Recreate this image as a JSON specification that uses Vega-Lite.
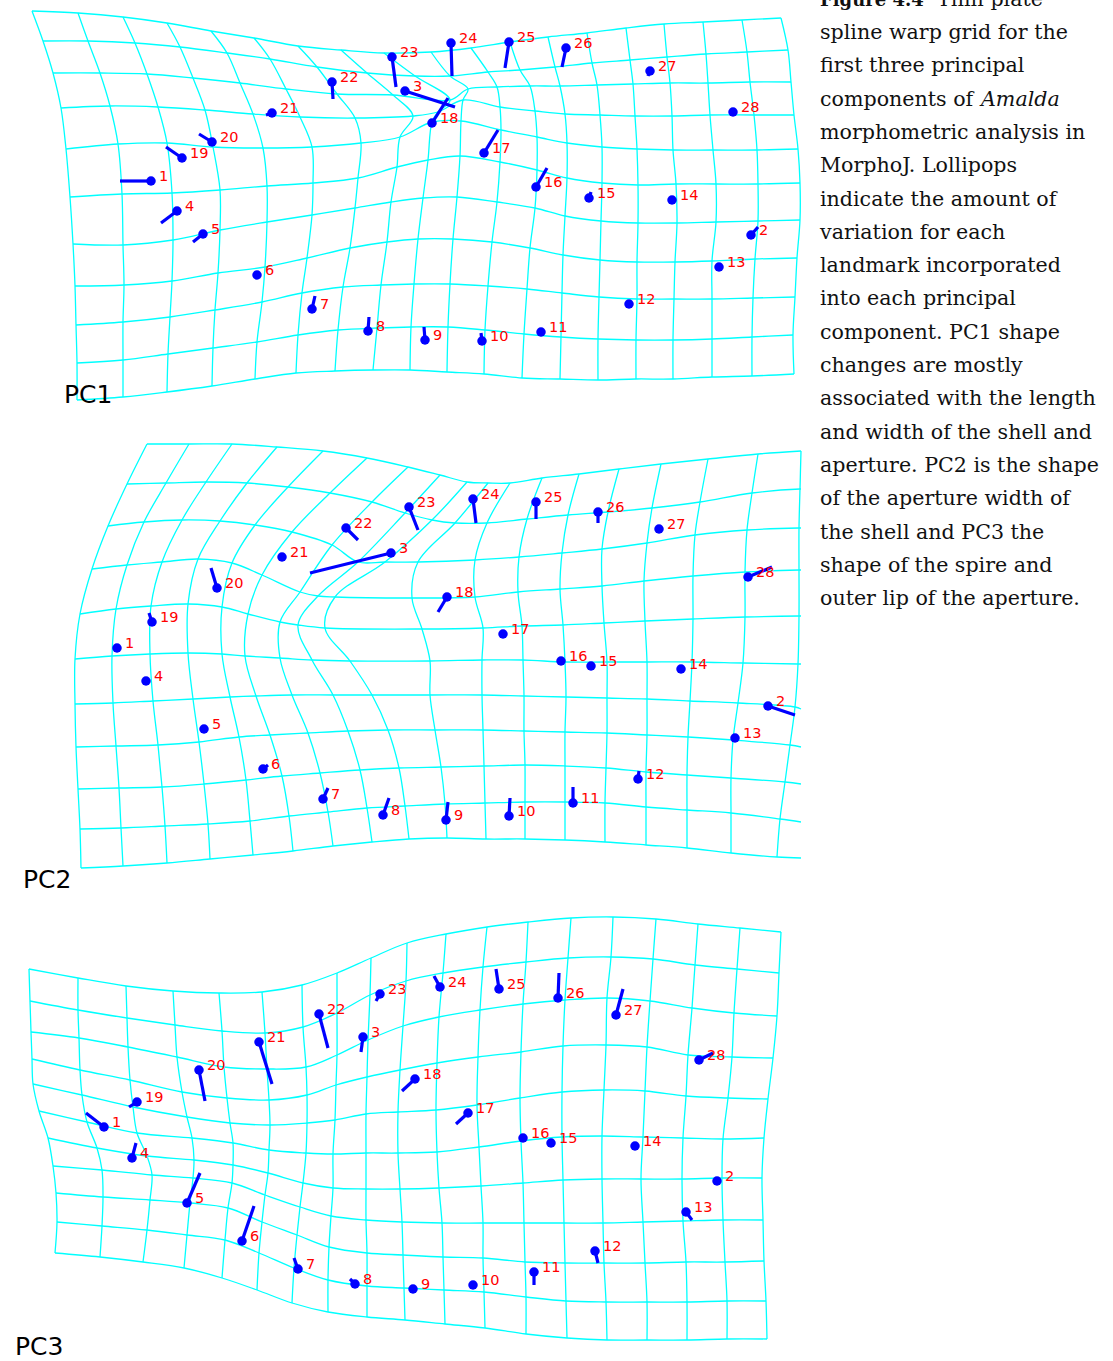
{
"$schema":"https://vega.github.io/schema/vega-lite/v6.json",
"width":1113,"height":1361,"padding":0,"autosize":{"type":"none"},
"background":"white",
"config":{"view":{"stroke":null}},
"datasets":{
"grid":[
{"p":1,"r":0,"c":0,"x":32,"y":11},{"p":1,"r":0,"c":1,"x":78,"y":13},{"p":1,"r":0,"c":2,"x":123,"y":17},{"p":1,"r":0,"c":3,"x":167,"y":23},{"p":1,"r":0,"c":4,"x":211,"y":31},{"p":1,"r":0,"c":5,"x":254,"y":38},{"p":1,"r":0,"c":6,"x":298,"y":46},{"p":1,"r":0,"c":7,"x":341,"y":50},{"p":1,"r":0,"c":8,"x":384,"y":53},{"p":1,"r":0,"c":9,"x":431,"y":52},{"p":1,"r":0,"c":10,"x":471,"y":48},{"p":1,"r":0,"c":11,"x":510,"y":42},{"p":1,"r":0,"c":12,"x":548,"y":37},{"p":1,"r":0,"c":13,"x":587,"y":33},{"p":1,"r":0,"c":14,"x":626,"y":28},{"p":1,"r":0,"c":15,"x":664,"y":24},{"p":1,"r":0,"c":16,"x":703,"y":22},{"p":1,"r":0,"c":17,"x":742,"y":20},{"p":1,"r":0,"c":18,"x":781,"y":18},
{"p":1,"r":1,"c":0,"x":43,"y":41},{"p":1,"r":1,"c":1,"x":88,"y":41},{"p":1,"r":1,"c":2,"x":135,"y":43},{"p":1,"r":1,"c":3,"x":180,"y":47},{"p":1,"r":1,"c":4,"x":227,"y":53},{"p":1,"r":1,"c":5,"x":270,"y":59},{"p":1,"r":1,"c":6,"x":317,"y":67},{"p":1,"r":1,"c":7,"x":367,"y":73},{"p":1,"r":1,"c":8,"x":415,"y":76},{"p":1,"r":1,"c":9,"x":450,"y":76},{"p":1,"r":1,"c":10,"x":488,"y":72},{"p":1,"r":1,"c":11,"x":520,"y":70},{"p":1,"r":1,"c":12,"x":555,"y":67},{"p":1,"r":1,"c":13,"x":592,"y":63},{"p":1,"r":1,"c":14,"x":630,"y":60},{"p":1,"r":1,"c":15,"x":667,"y":57},{"p":1,"r":1,"c":16,"x":706,"y":54},{"p":1,"r":1,"c":17,"x":747,"y":52},{"p":1,"r":1,"c":18,"x":788,"y":50},
{"p":1,"r":2,"c":0,"x":53,"y":73},{"p":1,"r":2,"c":1,"x":100,"y":73},{"p":1,"r":2,"c":2,"x":147,"y":74},{"p":1,"r":2,"c":3,"x":193,"y":78},{"p":1,"r":2,"c":4,"x":240,"y":83},{"p":1,"r":2,"c":5,"x":286,"y":89},{"p":1,"r":2,"c":6,"x":337,"y":94},{"p":1,"r":2,"c":7,"x":393,"y":95},{"p":1,"r":2,"c":8,"x":450,"y":100},{"p":1,"r":2,"c":9,"x":468,"y":89},{"p":1,"r":2,"c":10,"x":497,"y":87},{"p":1,"r":2,"c":11,"x":530,"y":86},{"p":1,"r":2,"c":12,"x":560,"y":86},{"p":1,"r":2,"c":13,"x":597,"y":85},{"p":1,"r":2,"c":14,"x":633,"y":84},{"p":1,"r":2,"c":15,"x":670,"y":83},{"p":1,"r":2,"c":16,"x":708,"y":83},{"p":1,"r":2,"c":17,"x":750,"y":82},{"p":1,"r":2,"c":18,"x":791,"y":82},
{"p":1,"r":3,"c":0,"x":61,"y":108},{"p":1,"r":3,"c":1,"x":110,"y":106},{"p":1,"r":3,"c":2,"x":158,"y":107},{"p":1,"r":3,"c":3,"x":205,"y":110},{"p":1,"r":3,"c":4,"x":253,"y":114},{"p":1,"r":3,"c":5,"x":300,"y":117},{"p":1,"r":3,"c":6,"x":355,"y":118},{"p":1,"r":3,"c":7,"x":413,"y":116},{"p":1,"r":3,"c":8,"x":438,"y":112},{"p":1,"r":3,"c":9,"x":463,"y":100},{"p":1,"r":3,"c":10,"x":500,"y":107},{"p":1,"r":3,"c":11,"x":535,"y":111},{"p":1,"r":3,"c":12,"x":565,"y":114},{"p":1,"r":3,"c":13,"x":600,"y":115},{"p":1,"r":3,"c":14,"x":635,"y":116},{"p":1,"r":3,"c":15,"x":672,"y":116},{"p":1,"r":3,"c":16,"x":710,"y":115},{"p":1,"r":3,"c":17,"x":754,"y":115},{"p":1,"r":3,"c":18,"x":794,"y":115},
{"p":1,"r":4,"c":0,"x":66,"y":149},{"p":1,"r":4,"c":1,"x":118,"y":144},{"p":1,"r":4,"c":2,"x":167,"y":143},{"p":1,"r":4,"c":3,"x":213,"y":147},{"p":1,"r":4,"c":4,"x":263,"y":148},{"p":1,"r":4,"c":5,"x":312,"y":147},{"p":1,"r":4,"c":6,"x":361,"y":143},{"p":1,"r":4,"c":7,"x":400,"y":137},{"p":1,"r":4,"c":8,"x":432,"y":122},{"p":1,"r":4,"c":9,"x":461,"y":121},{"p":1,"r":4,"c":10,"x":501,"y":130},{"p":1,"r":4,"c":11,"x":537,"y":137},{"p":1,"r":4,"c":12,"x":567,"y":143},{"p":1,"r":4,"c":13,"x":602,"y":147},{"p":1,"r":4,"c":14,"x":637,"y":149},{"p":1,"r":4,"c":15,"x":673,"y":150},{"p":1,"r":4,"c":16,"x":713,"y":150},{"p":1,"r":4,"c":17,"x":757,"y":150},{"p":1,"r":4,"c":18,"x":798,"y":149},
{"p":1,"r":5,"c":0,"x":70,"y":197},{"p":1,"r":5,"c":1,"x":122,"y":194},{"p":1,"r":5,"c":2,"x":172,"y":193},{"p":1,"r":5,"c":3,"x":220,"y":190},{"p":1,"r":5,"c":4,"x":267,"y":186},{"p":1,"r":5,"c":5,"x":313,"y":183},{"p":1,"r":5,"c":6,"x":358,"y":178},{"p":1,"r":5,"c":7,"x":397,"y":167},{"p":1,"r":5,"c":8,"x":428,"y":160},{"p":1,"r":5,"c":9,"x":460,"y":156},{"p":1,"r":5,"c":10,"x":500,"y":162},{"p":1,"r":5,"c":11,"x":537,"y":170},{"p":1,"r":5,"c":12,"x":567,"y":178},{"p":1,"r":5,"c":13,"x":602,"y":183},{"p":1,"r":5,"c":14,"x":638,"y":185},{"p":1,"r":5,"c":15,"x":676,"y":184},{"p":1,"r":5,"c":16,"x":716,"y":184},{"p":1,"r":5,"c":17,"x":758,"y":184},{"p":1,"r":5,"c":18,"x":800,"y":183},
{"p":1,"r":6,"c":0,"x":73,"y":244},{"p":1,"r":6,"c":1,"x":123,"y":245},{"p":1,"r":6,"c":2,"x":173,"y":240},{"p":1,"r":6,"c":3,"x":220,"y":230},{"p":1,"r":6,"c":4,"x":267,"y":222},{"p":1,"r":6,"c":5,"x":312,"y":215},{"p":1,"r":6,"c":6,"x":355,"y":208},{"p":1,"r":6,"c":7,"x":391,"y":202},{"p":1,"r":6,"c":8,"x":423,"y":198},{"p":1,"r":6,"c":9,"x":457,"y":197},{"p":1,"r":6,"c":10,"x":497,"y":202},{"p":1,"r":6,"c":11,"x":535,"y":208},{"p":1,"r":6,"c":12,"x":565,"y":216},{"p":1,"r":6,"c":13,"x":601,"y":221},{"p":1,"r":6,"c":14,"x":638,"y":223},{"p":1,"r":6,"c":15,"x":677,"y":223},{"p":1,"r":6,"c":16,"x":716,"y":222},{"p":1,"r":6,"c":17,"x":758,"y":221},{"p":1,"r":6,"c":18,"x":800,"y":220},
{"p":1,"r":7,"c":0,"x":75,"y":286},{"p":1,"r":7,"c":1,"x":124,"y":285},{"p":1,"r":7,"c":2,"x":172,"y":281},{"p":1,"r":7,"c":3,"x":218,"y":273},{"p":1,"r":7,"c":4,"x":265,"y":267},{"p":1,"r":7,"c":5,"x":307,"y":258},{"p":1,"r":7,"c":6,"x":350,"y":248},{"p":1,"r":7,"c":7,"x":387,"y":242},{"p":1,"r":7,"c":8,"x":418,"y":239},{"p":1,"r":7,"c":9,"x":453,"y":239},{"p":1,"r":7,"c":10,"x":492,"y":242},{"p":1,"r":7,"c":11,"x":530,"y":248},{"p":1,"r":7,"c":12,"x":563,"y":255},{"p":1,"r":7,"c":13,"x":600,"y":260},{"p":1,"r":7,"c":14,"x":637,"y":262},{"p":1,"r":7,"c":15,"x":675,"y":262},{"p":1,"r":7,"c":16,"x":712,"y":261},{"p":1,"r":7,"c":17,"x":755,"y":259},{"p":1,"r":7,"c":18,"x":797,"y":258},
{"p":1,"r":8,"c":0,"x":76,"y":325},{"p":1,"r":8,"c":1,"x":123,"y":322},{"p":1,"r":8,"c":2,"x":170,"y":317},{"p":1,"r":8,"c":3,"x":215,"y":310},{"p":1,"r":8,"c":4,"x":262,"y":302},{"p":1,"r":8,"c":5,"x":302,"y":293},{"p":1,"r":8,"c":6,"x":343,"y":287},{"p":1,"r":8,"c":7,"x":381,"y":285},{"p":1,"r":8,"c":8,"x":414,"y":284},{"p":1,"r":8,"c":9,"x":450,"y":284},{"p":1,"r":8,"c":10,"x":488,"y":286},{"p":1,"r":8,"c":11,"x":527,"y":289},{"p":1,"r":8,"c":12,"x":562,"y":293},{"p":1,"r":8,"c":13,"x":599,"y":297},{"p":1,"r":8,"c":14,"x":637,"y":299},{"p":1,"r":8,"c":15,"x":674,"y":299},{"p":1,"r":8,"c":16,"x":712,"y":299},{"p":1,"r":8,"c":17,"x":753,"y":298},{"p":1,"r":8,"c":18,"x":795,"y":297},
{"p":1,"r":9,"c":0,"x":77,"y":363},{"p":1,"r":9,"c":1,"x":123,"y":360},{"p":1,"r":9,"c":2,"x":168,"y":354},{"p":1,"r":9,"c":3,"x":213,"y":348},{"p":1,"r":9,"c":4,"x":257,"y":342},{"p":1,"r":9,"c":5,"x":298,"y":335},{"p":1,"r":9,"c":6,"x":338,"y":330},{"p":1,"r":9,"c":7,"x":377,"y":328},{"p":1,"r":9,"c":8,"x":411,"y":327},{"p":1,"r":9,"c":9,"x":448,"y":327},{"p":1,"r":9,"c":10,"x":485,"y":330},{"p":1,"r":9,"c":11,"x":524,"y":334},{"p":1,"r":9,"c":12,"x":561,"y":337},{"p":1,"r":9,"c":13,"x":598,"y":339},{"p":1,"r":9,"c":14,"x":636,"y":340},{"p":1,"r":9,"c":15,"x":673,"y":340},{"p":1,"r":9,"c":16,"x":712,"y":339},{"p":1,"r":9,"c":17,"x":752,"y":337},{"p":1,"r":9,"c":18,"x":793,"y":335},
{"p":1,"r":10,"c":0,"x":77,"y":400},{"p":1,"r":10,"c":1,"x":123,"y":397},{"p":1,"r":10,"c":2,"x":167,"y":392},{"p":1,"r":10,"c":3,"x":212,"y":386},{"p":1,"r":10,"c":4,"x":255,"y":379},{"p":1,"r":10,"c":5,"x":296,"y":373},{"p":1,"r":10,"c":6,"x":335,"y":371},{"p":1,"r":10,"c":7,"x":373,"y":370},{"p":1,"r":10,"c":8,"x":410,"y":370},{"p":1,"r":10,"c":9,"x":447,"y":372},{"p":1,"r":10,"c":10,"x":484,"y":374},{"p":1,"r":10,"c":11,"x":522,"y":378},{"p":1,"r":10,"c":12,"x":560,"y":379},{"p":1,"r":10,"c":13,"x":598,"y":380},{"p":1,"r":10,"c":14,"x":636,"y":379},{"p":1,"r":10,"c":15,"x":673,"y":379},{"p":1,"r":10,"c":16,"x":712,"y":377},{"p":1,"r":10,"c":17,"x":752,"y":376},{"p":1,"r":10,"c":18,"x":794,"y":374},
{"p":2,"r":0,"c":0,"x":147,"y":444},{"p":2,"r":0,"c":1,"x":189,"y":444},{"p":2,"r":0,"c":2,"x":232,"y":444},{"p":2,"r":0,"c":3,"x":277,"y":447},{"p":2,"r":0,"c":4,"x":323,"y":451},{"p":2,"r":0,"c":5,"x":367,"y":458},{"p":2,"r":0,"c":6,"x":408,"y":467},{"p":2,"r":0,"c":7,"x":440,"y":475},{"p":2,"r":0,"c":8,"x":467,"y":482},{"p":2,"r":0,"c":9,"x":488,"y":483},{"p":2,"r":0,"c":10,"x":510,"y":483},{"p":2,"r":0,"c":11,"x":542,"y":478},{"p":2,"r":0,"c":12,"x":579,"y":474},{"p":2,"r":0,"c":13,"x":619,"y":469},{"p":2,"r":0,"c":14,"x":661,"y":464},{"p":2,"r":0,"c":15,"x":708,"y":459},{"p":2,"r":0,"c":16,"x":758,"y":454},{"p":2,"r":0,"c":17,"x":801,"y":451},{"p":2,"r":0,"c":18,"x":801,"y":451},
{"p":2,"r":1,"c":0,"x":127,"y":484},{"p":2,"r":1,"c":1,"x":166,"y":483},{"p":2,"r":1,"c":2,"x":206,"y":482},{"p":2,"r":1,"c":3,"x":247,"y":483},{"p":2,"r":1,"c":4,"x":288,"y":487},{"p":2,"r":1,"c":5,"x":330,"y":493},{"p":2,"r":1,"c":6,"x":372,"y":502},{"p":2,"r":1,"c":7,"x":405,"y":513},{"p":2,"r":1,"c":8,"x":432,"y":520},{"p":2,"r":1,"c":9,"x":455,"y":523},{"p":2,"r":1,"c":10,"x":487,"y":523},{"p":2,"r":1,"c":11,"x":527,"y":519},{"p":2,"r":1,"c":12,"x":568,"y":515},{"p":2,"r":1,"c":13,"x":608,"y":512},{"p":2,"r":1,"c":14,"x":652,"y":508},{"p":2,"r":1,"c":15,"x":700,"y":502},{"p":2,"r":1,"c":16,"x":752,"y":493},{"p":2,"r":1,"c":17,"x":800,"y":489},{"p":2,"r":1,"c":18,"x":801,"y":489},
{"p":2,"r":2,"c":0,"x":108,"y":526},{"p":2,"r":2,"c":1,"x":144,"y":522},{"p":2,"r":2,"c":2,"x":182,"y":520},{"p":2,"r":2,"c":3,"x":220,"y":521},{"p":2,"r":2,"c":4,"x":255,"y":525},{"p":2,"r":2,"c":5,"x":292,"y":532},{"p":2,"r":2,"c":6,"x":332,"y":545},{"p":2,"r":2,"c":7,"x":358,"y":562},{"p":2,"r":2,"c":8,"x":385,"y":562},{"p":2,"r":2,"c":9,"x":418,"y":562},{"p":2,"r":2,"c":10,"x":475,"y":560},{"p":2,"r":2,"c":11,"x":519,"y":557},{"p":2,"r":2,"c":12,"x":562,"y":553},{"p":2,"r":2,"c":13,"x":602,"y":549},{"p":2,"r":2,"c":14,"x":647,"y":543},{"p":2,"r":2,"c":15,"x":695,"y":535},{"p":2,"r":2,"c":16,"x":747,"y":530},{"p":2,"r":2,"c":17,"x":799,"y":528},{"p":2,"r":2,"c":18,"x":801,"y":528},
{"p":2,"r":3,"c":0,"x":92,"y":569},{"p":2,"r":3,"c":1,"x":127,"y":565},{"p":2,"r":3,"c":2,"x":162,"y":562},{"p":2,"r":3,"c":3,"x":198,"y":559},{"p":2,"r":3,"c":4,"x":232,"y":563},{"p":2,"r":3,"c":5,"x":262,"y":575},{"p":2,"r":3,"c":6,"x":300,"y":592},{"p":2,"r":3,"c":7,"x":318,"y":596},{"p":2,"r":3,"c":8,"x":335,"y":597},{"p":2,"r":3,"c":9,"x":412,"y":598},{"p":2,"r":3,"c":10,"x":475,"y":597},{"p":2,"r":3,"c":11,"x":518,"y":592},{"p":2,"r":3,"c":12,"x":560,"y":589},{"p":2,"r":3,"c":13,"x":602,"y":586},{"p":2,"r":3,"c":14,"x":644,"y":581},{"p":2,"r":3,"c":15,"x":693,"y":576},{"p":2,"r":3,"c":16,"x":745,"y":572},{"p":2,"r":3,"c":17,"x":799,"y":570},{"p":2,"r":3,"c":18,"x":801,"y":570},
{"p":2,"r":4,"c":0,"x":80,"y":614},{"p":2,"r":4,"c":1,"x":116,"y":609},{"p":2,"r":4,"c":2,"x":151,"y":606},{"p":2,"r":4,"c":3,"x":188,"y":604},{"p":2,"r":4,"c":4,"x":222,"y":607},{"p":2,"r":4,"c":5,"x":248,"y":614},{"p":2,"r":4,"c":6,"x":280,"y":622},{"p":2,"r":4,"c":7,"x":298,"y":625},{"p":2,"r":4,"c":8,"x":325,"y":628},{"p":2,"r":4,"c":9,"x":422,"y":629},{"p":2,"r":4,"c":10,"x":483,"y":628},{"p":2,"r":4,"c":11,"x":522,"y":626},{"p":2,"r":4,"c":12,"x":563,"y":625},{"p":2,"r":4,"c":13,"x":604,"y":623},{"p":2,"r":4,"c":14,"x":645,"y":621},{"p":2,"r":4,"c":15,"x":693,"y":619},{"p":2,"r":4,"c":16,"x":745,"y":617},{"p":2,"r":4,"c":17,"x":799,"y":616},{"p":2,"r":4,"c":18,"x":801,"y":616},
{"p":2,"r":5,"c":0,"x":75,"y":659},{"p":2,"r":5,"c":1,"x":112,"y":656},{"p":2,"r":5,"c":2,"x":150,"y":654},{"p":2,"r":5,"c":3,"x":188,"y":653},{"p":2,"r":5,"c":4,"x":222,"y":654},{"p":2,"r":5,"c":5,"x":245,"y":656},{"p":2,"r":5,"c":6,"x":280,"y":658},{"p":2,"r":5,"c":7,"x":312,"y":660},{"p":2,"r":5,"c":8,"x":350,"y":661},{"p":2,"r":5,"c":9,"x":430,"y":661},{"p":2,"r":5,"c":10,"x":482,"y":660},{"p":2,"r":5,"c":11,"x":523,"y":660},{"p":2,"r":5,"c":12,"x":565,"y":662},{"p":2,"r":5,"c":13,"x":607,"y":662},{"p":2,"r":5,"c":14,"x":647,"y":662},{"p":2,"r":5,"c":15,"x":692,"y":662},{"p":2,"r":5,"c":16,"x":743,"y":663},{"p":2,"r":5,"c":17,"x":798,"y":664},{"p":2,"r":5,"c":18,"x":801,"y":664},
{"p":2,"r":6,"c":0,"x":75,"y":704},{"p":2,"r":6,"c":1,"x":113,"y":703},{"p":2,"r":6,"c":2,"x":153,"y":701},{"p":2,"r":6,"c":3,"x":193,"y":699},{"p":2,"r":6,"c":4,"x":230,"y":697},{"p":2,"r":6,"c":5,"x":256,"y":696},{"p":2,"r":6,"c":6,"x":292,"y":695},{"p":2,"r":6,"c":7,"x":333,"y":695},{"p":2,"r":6,"c":8,"x":372,"y":695},{"p":2,"r":6,"c":9,"x":430,"y":695},{"p":2,"r":6,"c":10,"x":482,"y":695},{"p":2,"r":6,"c":11,"x":524,"y":696},{"p":2,"r":6,"c":12,"x":566,"y":697},{"p":2,"r":6,"c":13,"x":607,"y":698},{"p":2,"r":6,"c":14,"x":647,"y":699},{"p":2,"r":6,"c":15,"x":690,"y":701},{"p":2,"r":6,"c":16,"x":738,"y":703},{"p":2,"r":6,"c":17,"x":795,"y":707},{"p":2,"r":6,"c":18,"x":801,"y":709},
{"p":2,"r":7,"c":0,"x":76,"y":747},{"p":2,"r":7,"c":1,"x":116,"y":746},{"p":2,"r":7,"c":2,"x":158,"y":745},{"p":2,"r":7,"c":3,"x":199,"y":742},{"p":2,"r":7,"c":4,"x":239,"y":737},{"p":2,"r":7,"c":5,"x":270,"y":735},{"p":2,"r":7,"c":6,"x":308,"y":733},{"p":2,"r":7,"c":7,"x":348,"y":731},{"p":2,"r":7,"c":8,"x":388,"y":730},{"p":2,"r":7,"c":9,"x":435,"y":730},{"p":2,"r":7,"c":10,"x":483,"y":730},{"p":2,"r":7,"c":11,"x":524,"y":731},{"p":2,"r":7,"c":12,"x":565,"y":732},{"p":2,"r":7,"c":13,"x":607,"y":733},{"p":2,"r":7,"c":14,"x":647,"y":735},{"p":2,"r":7,"c":15,"x":688,"y":737},{"p":2,"r":7,"c":16,"x":733,"y":740},{"p":2,"r":7,"c":17,"x":790,"y":745},{"p":2,"r":7,"c":18,"x":801,"y":747},
{"p":2,"r":8,"c":0,"x":78,"y":789},{"p":2,"r":8,"c":1,"x":119,"y":788},{"p":2,"r":8,"c":2,"x":162,"y":787},{"p":2,"r":8,"c":3,"x":204,"y":784},{"p":2,"r":8,"c":4,"x":246,"y":780},{"p":2,"r":8,"c":5,"x":282,"y":776},{"p":2,"r":8,"c":6,"x":320,"y":773},{"p":2,"r":8,"c":7,"x":360,"y":770},{"p":2,"r":8,"c":8,"x":399,"y":768},{"p":2,"r":8,"c":9,"x":441,"y":767},{"p":2,"r":8,"c":10,"x":484,"y":766},{"p":2,"r":8,"c":11,"x":525,"y":765},{"p":2,"r":8,"c":12,"x":565,"y":766},{"p":2,"r":8,"c":13,"x":606,"y":768},{"p":2,"r":8,"c":14,"x":646,"y":772},{"p":2,"r":8,"c":15,"x":687,"y":775},{"p":2,"r":8,"c":16,"x":731,"y":778},{"p":2,"r":8,"c":17,"x":785,"y":782},{"p":2,"r":8,"c":18,"x":801,"y":784},
{"p":2,"r":9,"c":0,"x":80,"y":829},{"p":2,"r":9,"c":1,"x":121,"y":828},{"p":2,"r":9,"c":2,"x":165,"y":826},{"p":2,"r":9,"c":3,"x":208,"y":824},{"p":2,"r":9,"c":4,"x":250,"y":821},{"p":2,"r":9,"c":5,"x":289,"y":816},{"p":2,"r":9,"c":6,"x":328,"y":812},{"p":2,"r":9,"c":7,"x":367,"y":808},{"p":2,"r":9,"c":8,"x":405,"y":806},{"p":2,"r":9,"c":9,"x":445,"y":804},{"p":2,"r":9,"c":10,"x":485,"y":803},{"p":2,"r":9,"c":11,"x":525,"y":802},{"p":2,"r":9,"c":12,"x":565,"y":802},{"p":2,"r":9,"c":13,"x":605,"y":803},{"p":2,"r":9,"c":14,"x":646,"y":807},{"p":2,"r":9,"c":15,"x":687,"y":810},{"p":2,"r":9,"c":16,"x":731,"y":813},{"p":2,"r":9,"c":17,"x":780,"y":819},{"p":2,"r":9,"c":18,"x":801,"y":822},
{"p":2,"r":10,"c":0,"x":81,"y":868},{"p":2,"r":10,"c":1,"x":123,"y":866},{"p":2,"r":10,"c":2,"x":167,"y":863},{"p":2,"r":10,"c":3,"x":210,"y":859},{"p":2,"r":10,"c":4,"x":253,"y":855},{"p":2,"r":10,"c":5,"x":293,"y":851},{"p":2,"r":10,"c":6,"x":333,"y":846},{"p":2,"r":10,"c":7,"x":372,"y":842},{"p":2,"r":10,"c":8,"x":409,"y":839},{"p":2,"r":10,"c":9,"x":447,"y":838},{"p":2,"r":10,"c":10,"x":486,"y":839},{"p":2,"r":10,"c":11,"x":525,"y":839},{"p":2,"r":10,"c":12,"x":565,"y":840},{"p":2,"r":10,"c":13,"x":605,"y":842},{"p":2,"r":10,"c":14,"x":646,"y":845},{"p":2,"r":10,"c":15,"x":687,"y":848},{"p":2,"r":10,"c":16,"x":731,"y":853},{"p":2,"r":10,"c":17,"x":777,"y":857},{"p":2,"r":10,"c":18,"x":801,"y":858},
{"p":3,"r":0,"c":0,"x":29,"y":969},{"p":3,"r":0,"c":1,"x":78,"y":978},{"p":3,"r":0,"c":2,"x":126,"y":986},{"p":3,"r":0,"c":3,"x":173,"y":991},{"p":3,"r":0,"c":4,"x":219,"y":993},{"p":3,"r":0,"c":5,"x":262,"y":992},{"p":3,"r":0,"c":6,"x":302,"y":985},{"p":3,"r":0,"c":7,"x":337,"y":973},{"p":3,"r":0,"c":8,"x":371,"y":958},{"p":3,"r":0,"c":9,"x":407,"y":943},{"p":3,"r":0,"c":10,"x":446,"y":934},{"p":3,"r":0,"c":11,"x":487,"y":927},{"p":3,"r":0,"c":12,"x":528,"y":922},{"p":3,"r":0,"c":13,"x":571,"y":918},{"p":3,"r":0,"c":14,"x":613,"y":917},{"p":3,"r":0,"c":15,"x":656,"y":919},{"p":3,"r":0,"c":16,"x":698,"y":924},{"p":3,"r":0,"c":17,"x":740,"y":928},{"p":3,"r":0,"c":18,"x":781,"y":932},
{"p":3,"r":1,"c":0,"x":30,"y":1001},{"p":3,"r":1,"c":1,"x":78,"y":1010},{"p":3,"r":1,"c":2,"x":127,"y":1018},{"p":3,"r":1,"c":3,"x":175,"y":1025},{"p":3,"r":1,"c":4,"x":222,"y":1031},{"p":3,"r":1,"c":5,"x":265,"y":1033},{"p":3,"r":1,"c":6,"x":303,"y":1027},{"p":3,"r":1,"c":7,"x":337,"y":1013},{"p":3,"r":1,"c":8,"x":370,"y":995},{"p":3,"r":1,"c":9,"x":406,"y":981},{"p":3,"r":1,"c":10,"x":443,"y":973},{"p":3,"r":1,"c":11,"x":483,"y":967},{"p":3,"r":1,"c":12,"x":526,"y":962},{"p":3,"r":1,"c":13,"x":568,"y":958},{"p":3,"r":1,"c":14,"x":611,"y":957},{"p":3,"r":1,"c":15,"x":653,"y":959},{"p":3,"r":1,"c":16,"x":695,"y":965},{"p":3,"r":1,"c":17,"x":737,"y":969},{"p":3,"r":1,"c":18,"x":779,"y":973},
{"p":3,"r":2,"c":0,"x":31,"y":1032},{"p":3,"r":2,"c":1,"x":79,"y":1038},{"p":3,"r":2,"c":2,"x":128,"y":1047},{"p":3,"r":2,"c":3,"x":177,"y":1057},{"p":3,"r":2,"c":4,"x":224,"y":1067},{"p":3,"r":2,"c":5,"x":267,"y":1069},{"p":3,"r":2,"c":6,"x":306,"y":1067},{"p":3,"r":2,"c":7,"x":337,"y":1055},{"p":3,"r":2,"c":8,"x":368,"y":1040},{"p":3,"r":2,"c":9,"x":403,"y":1026},{"p":3,"r":2,"c":10,"x":439,"y":1017},{"p":3,"r":2,"c":11,"x":480,"y":1010},{"p":3,"r":2,"c":12,"x":523,"y":1004},{"p":3,"r":2,"c":13,"x":565,"y":1000},{"p":3,"r":2,"c":14,"x":607,"y":998},{"p":3,"r":2,"c":15,"x":650,"y":1001},{"p":3,"r":2,"c":16,"x":692,"y":1008},{"p":3,"r":2,"c":17,"x":734,"y":1013},{"p":3,"r":2,"c":18,"x":777,"y":1016},
{"p":3,"r":3,"c":0,"x":32,"y":1059},{"p":3,"r":3,"c":1,"x":80,"y":1070},{"p":3,"r":3,"c":2,"x":130,"y":1080},{"p":3,"r":3,"c":3,"x":182,"y":1092},{"p":3,"r":3,"c":4,"x":227,"y":1098},{"p":3,"r":3,"c":5,"x":269,"y":1100},{"p":3,"r":3,"c":6,"x":307,"y":1095},{"p":3,"r":3,"c":7,"x":336,"y":1085},{"p":3,"r":3,"c":8,"x":367,"y":1077},{"p":3,"r":3,"c":9,"x":400,"y":1070},{"p":3,"r":3,"c":10,"x":437,"y":1063},{"p":3,"r":3,"c":11,"x":478,"y":1057},{"p":3,"r":3,"c":12,"x":521,"y":1052},{"p":3,"r":3,"c":13,"x":563,"y":1046},{"p":3,"r":3,"c":14,"x":606,"y":1045},{"p":3,"r":3,"c":15,"x":647,"y":1047},{"p":3,"r":3,"c":16,"x":688,"y":1055},{"p":3,"r":3,"c":17,"x":732,"y":1057},{"p":3,"r":3,"c":18,"x":773,"y":1058},
{"p":3,"r":4,"c":0,"x":33,"y":1084},{"p":3,"r":4,"c":1,"x":82,"y":1095},{"p":3,"r":4,"c":2,"x":133,"y":1107},{"p":3,"r":4,"c":3,"x":187,"y":1117},{"p":3,"r":4,"c":4,"x":230,"y":1123},{"p":3,"r":4,"c":5,"x":270,"y":1125},{"p":3,"r":4,"c":6,"x":307,"y":1123},{"p":3,"r":4,"c":7,"x":335,"y":1120},{"p":3,"r":4,"c":8,"x":366,"y":1114},{"p":3,"r":4,"c":9,"x":398,"y":1112},{"p":3,"r":4,"c":10,"x":436,"y":1110},{"p":3,"r":4,"c":11,"x":477,"y":1105},{"p":3,"r":4,"c":12,"x":520,"y":1098},{"p":3,"r":4,"c":13,"x":562,"y":1092},{"p":3,"r":4,"c":14,"x":604,"y":1090},{"p":3,"r":4,"c":15,"x":645,"y":1091},{"p":3,"r":4,"c":16,"x":686,"y":1096},{"p":3,"r":4,"c":17,"x":728,"y":1098},{"p":3,"r":4,"c":18,"x":768,"y":1099},
{"p":3,"r":5,"c":0,"x":39,"y":1111},{"p":3,"r":5,"c":1,"x":87,"y":1122},{"p":3,"r":5,"c":2,"x":137,"y":1133},{"p":3,"r":5,"c":3,"x":192,"y":1138},{"p":3,"r":5,"c":4,"x":233,"y":1143},{"p":3,"r":5,"c":5,"x":269,"y":1150},{"p":3,"r":5,"c":6,"x":306,"y":1153},{"p":3,"r":5,"c":7,"x":333,"y":1154},{"p":3,"r":5,"c":8,"x":366,"y":1153},{"p":3,"r":5,"c":9,"x":398,"y":1153},{"p":3,"r":5,"c":10,"x":437,"y":1152},{"p":3,"r":5,"c":11,"x":479,"y":1147},{"p":3,"r":5,"c":12,"x":521,"y":1141},{"p":3,"r":5,"c":13,"x":562,"y":1137},{"p":3,"r":5,"c":14,"x":602,"y":1136},{"p":3,"r":5,"c":15,"x":643,"y":1137},{"p":3,"r":5,"c":16,"x":683,"y":1138},{"p":3,"r":5,"c":17,"x":723,"y":1139},{"p":3,"r":5,"c":18,"x":764,"y":1138},
{"p":3,"r":6,"c":0,"x":48,"y":1138},{"p":3,"r":6,"c":1,"x":97,"y":1148},{"p":3,"r":6,"c":2,"x":147,"y":1156},{"p":3,"r":6,"c":3,"x":194,"y":1160},{"p":3,"r":6,"c":4,"x":233,"y":1165},{"p":3,"r":6,"c":5,"x":268,"y":1173},{"p":3,"r":6,"c":6,"x":303,"y":1183},{"p":3,"r":6,"c":7,"x":333,"y":1188},{"p":3,"r":6,"c":8,"x":366,"y":1189},{"p":3,"r":6,"c":9,"x":400,"y":1189},{"p":3,"r":6,"c":10,"x":439,"y":1188},{"p":3,"r":6,"c":11,"x":481,"y":1186},{"p":3,"r":6,"c":12,"x":523,"y":1183},{"p":3,"r":6,"c":13,"x":563,"y":1180},{"p":3,"r":6,"c":14,"x":602,"y":1179},{"p":3,"r":6,"c":15,"x":641,"y":1179},{"p":3,"r":6,"c":16,"x":682,"y":1179},{"p":3,"r":6,"c":17,"x":722,"y":1178},{"p":3,"r":6,"c":18,"x":762,"y":1178},
{"p":3,"r":7,"c":0,"x":53,"y":1166},{"p":3,"r":7,"c":1,"x":102,"y":1170},{"p":3,"r":7,"c":2,"x":152,"y":1175},{"p":3,"r":7,"c":3,"x":193,"y":1178},{"p":3,"r":7,"c":4,"x":232,"y":1183},{"p":3,"r":7,"c":5,"x":265,"y":1195},{"p":3,"r":7,"c":6,"x":300,"y":1207},{"p":3,"r":7,"c":7,"x":331,"y":1216},{"p":3,"r":7,"c":8,"x":366,"y":1220},{"p":3,"r":7,"c":9,"x":402,"y":1222},{"p":3,"r":7,"c":10,"x":442,"y":1223},{"p":3,"r":7,"c":11,"x":483,"y":1223},{"p":3,"r":7,"c":12,"x":524,"y":1223},{"p":3,"r":7,"c":13,"x":564,"y":1223},{"p":3,"r":7,"c":14,"x":603,"y":1223},{"p":3,"r":7,"c":15,"x":643,"y":1222},{"p":3,"r":7,"c":16,"x":683,"y":1221},{"p":3,"r":7,"c":17,"x":723,"y":1220},{"p":3,"r":7,"c":18,"x":763,"y":1220},
{"p":3,"r":8,"c":0,"x":56,"y":1193},{"p":3,"r":8,"c":1,"x":103,"y":1197},{"p":3,"r":8,"c":2,"x":150,"y":1200},{"p":3,"r":8,"c":3,"x":190,"y":1203},{"p":3,"r":8,"c":4,"x":228,"y":1208},{"p":3,"r":8,"c":5,"x":262,"y":1222},{"p":3,"r":8,"c":6,"x":297,"y":1235},{"p":3,"r":8,"c":7,"x":329,"y":1247},{"p":3,"r":8,"c":8,"x":367,"y":1253},{"p":3,"r":8,"c":9,"x":403,"y":1255},{"p":3,"r":8,"c":10,"x":443,"y":1257},{"p":3,"r":8,"c":11,"x":483,"y":1258},{"p":3,"r":8,"c":12,"x":525,"y":1262},{"p":3,"r":8,"c":13,"x":565,"y":1263},{"p":3,"r":8,"c":14,"x":604,"y":1263},{"p":3,"r":8,"c":15,"x":645,"y":1263},{"p":3,"r":8,"c":16,"x":686,"y":1262},{"p":3,"r":8,"c":17,"x":725,"y":1262},{"p":3,"r":8,"c":18,"x":764,"y":1261},
{"p":3,"r":9,"c":0,"x":57,"y":1222},{"p":3,"r":9,"c":1,"x":102,"y":1226},{"p":3,"r":9,"c":2,"x":147,"y":1230},{"p":3,"r":9,"c":3,"x":187,"y":1235},{"p":3,"r":9,"c":4,"x":225,"y":1240},{"p":3,"r":9,"c":5,"x":259,"y":1253},{"p":3,"r":9,"c":6,"x":294,"y":1268},{"p":3,"r":9,"c":7,"x":328,"y":1280},{"p":3,"r":9,"c":8,"x":367,"y":1286},{"p":3,"r":9,"c":9,"x":404,"y":1288},{"p":3,"r":9,"c":10,"x":444,"y":1290},{"p":3,"r":9,"c":11,"x":484,"y":1292},{"p":3,"r":9,"c":12,"x":526,"y":1297},{"p":3,"r":9,"c":13,"x":566,"y":1301},{"p":3,"r":9,"c":14,"x":606,"y":1302},{"p":3,"r":9,"c":15,"x":647,"y":1302},{"p":3,"r":9,"c":16,"x":687,"y":1302},{"p":3,"r":9,"c":17,"x":727,"y":1301},{"p":3,"r":9,"c":18,"x":766,"y":1301},
{"p":3,"r":10,"c":0,"x":55,"y":1253},{"p":3,"r":10,"c":1,"x":100,"y":1257},{"p":3,"r":10,"c":2,"x":143,"y":1262},{"p":3,"r":10,"c":3,"x":184,"y":1268},{"p":3,"r":10,"c":4,"x":222,"y":1278},{"p":3,"r":10,"c":5,"x":257,"y":1290},{"p":3,"r":10,"c":6,"x":292,"y":1303},{"p":3,"r":10,"c":7,"x":328,"y":1312},{"p":3,"r":10,"c":8,"x":367,"y":1317},{"p":3,"r":10,"c":9,"x":405,"y":1320},{"p":3,"r":10,"c":10,"x":445,"y":1324},{"p":3,"r":10,"c":11,"x":485,"y":1328},{"p":3,"r":10,"c":12,"x":526,"y":1334},{"p":3,"r":10,"c":13,"x":567,"y":1338},{"p":3,"r":10,"c":14,"x":607,"y":1340},{"p":3,"r":10,"c":15,"x":647,"y":1340},{"p":3,"r":10,"c":16,"x":687,"y":1340},{"p":3,"r":10,"c":17,"x":727,"y":1339},{"p":3,"r":10,"c":18,"x":767,"y":1339}
],
"lm":[
{"p":1,"n":"1","x":151,"y":181,"x2":120,"y2":181},{"p":1,"n":"2","x":751,"y":235,"x2":758,"y2":227},{"p":1,"n":"3","x":405,"y":91,"x2":455,"y2":107},{"p":1,"n":"4","x":177,"y":211,"x2":161,"y2":223},{"p":1,"n":"5","x":203,"y":234,"x2":193,"y2":242},{"p":1,"n":"6","x":257,"y":275,"x2":257,"y2":275},{"p":1,"n":"7","x":312,"y":309,"x2":315,"y2":296},{"p":1,"n":"8","x":368,"y":331,"x2":369,"y2":317},{"p":1,"n":"9","x":425,"y":340,"x2":424,"y2":327},{"p":1,"n":"10","x":482,"y":341,"x2":481,"y2":333},{"p":1,"n":"11","x":541,"y":332,"x2":541,"y2":332},{"p":1,"n":"12","x":629,"y":304,"x2":629,"y2":304},{"p":1,"n":"13","x":719,"y":267,"x2":719,"y2":267},{"p":1,"n":"14","x":672,"y":200,"x2":672,"y2":200},{"p":1,"n":"15","x":589,"y":198,"x2":591,"y2":192},{"p":1,"n":"16","x":536,"y":187,"x2":547,"y2":168},{"p":1,"n":"17","x":484,"y":153,"x2":498,"y2":130},{"p":1,"n":"18","x":432,"y":123,"x2":448,"y2":98},{"p":1,"n":"19","x":182,"y":158,"x2":166,"y2":147},{"p":1,"n":"20","x":212,"y":142,"x2":199,"y2":134},{"p":1,"n":"21","x":272,"y":113,"x2":266,"y2":115},{"p":1,"n":"22","x":332,"y":82,"x2":333,"y2":99},{"p":1,"n":"23","x":392,"y":57,"x2":396,"y2":87},{"p":1,"n":"24","x":451,"y":43,"x2":452,"y2":76},{"p":1,"n":"25","x":509,"y":42,"x2":505,"y2":68},{"p":1,"n":"26","x":566,"y":48,"x2":562,"y2":67},{"p":1,"n":"27","x":650,"y":71,"x2":648,"y2":76},{"p":1,"n":"28","x":733,"y":112,"x2":733,"y2":112},
{"p":2,"n":"1","x":117,"y":648,"x2":117,"y2":648},{"p":2,"n":"2","x":768,"y":706,"x2":795,"y2":715},{"p":2,"n":"3","x":391,"y":553,"x2":310,"y2":573},{"p":2,"n":"4","x":146,"y":681,"x2":146,"y2":681},{"p":2,"n":"5","x":204,"y":729,"x2":204,"y2":729},{"p":2,"n":"6","x":263,"y":769,"x2":268,"y2":765},{"p":2,"n":"7","x":323,"y":799,"x2":328,"y2":788},{"p":2,"n":"8","x":383,"y":815,"x2":389,"y2":798},{"p":2,"n":"9","x":446,"y":820,"x2":448,"y2":802},{"p":2,"n":"10","x":509,"y":816,"x2":510,"y2":798},{"p":2,"n":"11","x":573,"y":803,"x2":573,"y2":787},{"p":2,"n":"12","x":638,"y":779,"x2":639,"y2":771},{"p":2,"n":"13","x":735,"y":738,"x2":735,"y2":738},{"p":2,"n":"14","x":681,"y":669,"x2":681,"y2":669},{"p":2,"n":"15","x":591,"y":666,"x2":591,"y2":666},{"p":2,"n":"16","x":561,"y":661,"x2":561,"y2":661},{"p":2,"n":"17","x":503,"y":634,"x2":503,"y2":634},{"p":2,"n":"18","x":447,"y":597,"x2":438,"y2":612},{"p":2,"n":"19","x":152,"y":622,"x2":149,"y2":613},{"p":2,"n":"20","x":217,"y":588,"x2":211,"y2":568},{"p":2,"n":"21","x":282,"y":557,"x2":282,"y2":557},{"p":2,"n":"22","x":346,"y":528,"x2":358,"y2":540},{"p":2,"n":"23","x":409,"y":507,"x2":418,"y2":530},{"p":2,"n":"24","x":473,"y":499,"x2":476,"y2":523},{"p":2,"n":"25","x":536,"y":502,"x2":536,"y2":519},{"p":2,"n":"26","x":598,"y":512,"x2":598,"y2":523},{"p":2,"n":"27","x":659,"y":529,"x2":659,"y2":529},{"p":2,"n":"28","x":748,"y":577,"x2":772,"y2":567},
{"p":3,"n":"1","x":104,"y":1127,"x2":86,"y2":1113},{"p":3,"n":"2","x":717,"y":1181,"x2":717,"y2":1181},{"p":3,"n":"3","x":363,"y":1037,"x2":361,"y2":1052},{"p":3,"n":"4","x":132,"y":1158,"x2":136,"y2":1143},{"p":3,"n":"5","x":187,"y":1203,"x2":200,"y2":1173},{"p":3,"n":"6","x":242,"y":1241,"x2":254,"y2":1206},{"p":3,"n":"7","x":298,"y":1269,"x2":294,"y2":1258},{"p":3,"n":"8","x":355,"y":1284,"x2":350,"y2":1279},{"p":3,"n":"9","x":413,"y":1289,"x2":413,"y2":1289},{"p":3,"n":"10","x":473,"y":1285,"x2":473,"y2":1285},{"p":3,"n":"11","x":534,"y":1272,"x2":534,"y2":1285},{"p":3,"n":"12","x":595,"y":1251,"x2":598,"y2":1263},{"p":3,"n":"13","x":686,"y":1212,"x2":692,"y2":1220},{"p":3,"n":"14","x":635,"y":1146,"x2":635,"y2":1146},{"p":3,"n":"15","x":551,"y":1143,"x2":551,"y2":1143},{"p":3,"n":"16","x":523,"y":1138,"x2":523,"y2":1138},{"p":3,"n":"17","x":468,"y":1113,"x2":456,"y2":1124},{"p":3,"n":"18","x":415,"y":1079,"x2":402,"y2":1091},{"p":3,"n":"19","x":137,"y":1102,"x2":129,"y2":1107},{"p":3,"n":"20","x":199,"y":1070,"x2":205,"y2":1101},{"p":3,"n":"21","x":259,"y":1042,"x2":272,"y2":1084},{"p":3,"n":"22","x":319,"y":1014,"x2":328,"y2":1048},{"p":3,"n":"23","x":380,"y":994,"x2":376,"y2":1001},{"p":3,"n":"24","x":440,"y":987,"x2":434,"y2":976},{"p":3,"n":"25","x":499,"y":989,"x2":496,"y2":969},{"p":3,"n":"26","x":558,"y":998,"x2":559,"y2":973},{"p":3,"n":"27","x":616,"y":1015,"x2":623,"y2":989},{"p":3,"n":"28","x":699,"y":1060,"x2":713,"y2":1053}
],
"pcs":[{"t":"PC1","x":64,"y":403},{"t":"PC2","x":23,"y":888},{"t":"PC3","x":15,"y":1355}],
"cap":[
{"t":"Thin plate","x":937,"y":5.7},
{"t":"spline warp grid for the","x":820,"y":39},
{"t":"first three principal","x":820,"y":72.3},
{"t":"components of","x":820,"y":105.6},
{"t":"morphometric analysis in","x":820,"y":138.9},
{"t":"MorphoJ. Lollipops","x":820,"y":172.2},
{"t":"indicate the amount of","x":820,"y":205.5},
{"t":"variation for each","x":820,"y":238.8},
{"t":"landmark incorporated","x":820,"y":272.1},
{"t":"into each principal","x":820,"y":305.4},
{"t":"component. PC1 shape","x":820,"y":338.7},
{"t":"changes are mostly","x":820,"y":372},
{"t":"associated with the length","x":820,"y":405.3},
{"t":"and width of the shell and","x":820,"y":438.6},
{"t":"aperture. PC2 is the shape","x":820,"y":471.9},
{"t":"of the aperture width of","x":820,"y":505.2},
{"t":"the shell and PC3 the","x":820,"y":538.5},
{"t":"shape of the spire and","x":820,"y":571.8},
{"t":"outer lip of the aperture.","x":820,"y":605.1}
],
"capb":[{"t":"Figure 4.4","x":820,"y":5.7}],
"capi":[{"t":"Amalda","x":981,"y":105.6}]
},
"layer":[
{"data":{"name":"grid"},
 "mark":{"type":"line","color":"#00ffff","strokeWidth":1.3,"interpolate":"catmull-rom"},
 "encoding":{
  "x":{"field":"x","type":"quantitative","scale":{"domain":[0,1113],"nice":false,"zero":false},"axis":null},
  "y":{"field":"y","type":"quantitative","scale":{"domain":[0,1361],"reverse":true,"nice":false,"zero":false},"axis":null},
  "detail":[{"field":"p","type":"nominal"},{"field":"r","type":"nominal"}],
  "order":{"field":"c","type":"quantitative"}}},
{"data":{"name":"grid"},
 "transform":[{"filter":"datum.p != 2 || datum.c < 18"}],
 "mark":{"type":"line","color":"#00ffff","strokeWidth":1.3,"interpolate":"catmull-rom"},
 "encoding":{
  "x":{"field":"x","type":"quantitative","axis":null},
  "y":{"field":"y","type":"quantitative","axis":null},
  "detail":[{"field":"p","type":"nominal"},{"field":"c","type":"nominal"}],
  "order":{"field":"r","type":"quantitative"}}},
{"data":{"name":"lm"},
 "mark":{"type":"rule","color":"#0000ff","strokeWidth":3.2},
 "encoding":{
  "x":{"field":"x","type":"quantitative","axis":null},
  "y":{"field":"y","type":"quantitative","axis":null},
  "x2":{"field":"x2"},"y2":{"field":"y2"}}},
{"data":{"name":"lm"},
 "mark":{"type":"circle","color":"#0000ff","opacity":1,"size":90},
 "encoding":{
  "x":{"field":"x","type":"quantitative","axis":null},
  "y":{"field":"y","type":"quantitative","axis":null}}},
{"data":{"name":"lm"},
 "mark":{"type":"text","color":"#ff0000","font":"DejaVu Sans","fontSize":14.5,"align":"left","baseline":"alphabetic","dx":8,"dy":0},
 "encoding":{
  "x":{"field":"x","type":"quantitative","axis":null},
  "y":{"field":"y","type":"quantitative","axis":null},
  "text":{"field":"n"}}},
{"data":{"name":"pcs"},
 "mark":{"type":"text","color":"#000000","font":"DejaVu Sans","fontSize":25,"align":"left","baseline":"alphabetic"},
 "encoding":{
  "x":{"field":"x","type":"quantitative","axis":null},
  "y":{"field":"y","type":"quantitative","axis":null},
  "text":{"field":"t"}}},
{"data":{"name":"cap"},
 "mark":{"type":"text","color":"#111111","font":"DejaVu Serif","fontSize":20.6,"align":"left","baseline":"alphabetic"},
 "encoding":{
  "x":{"field":"x","type":"quantitative","axis":null},
  "y":{"field":"y","type":"quantitative","axis":null},
  "text":{"field":"t"}}},
{"data":{"name":"capb"},
 "mark":{"type":"text","color":"#111111","font":"DejaVu Serif","fontSize":18,"fontWeight":"bold","align":"left","baseline":"alphabetic"},
 "encoding":{
  "x":{"field":"x","type":"quantitative","axis":null},
  "y":{"field":"y","type":"quantitative","axis":null},
  "text":{"field":"t"}}},
{"data":{"name":"capi"},
 "mark":{"type":"text","color":"#111111","font":"DejaVu Serif","fontSize":20.6,"fontStyle":"italic","align":"left","baseline":"alphabetic"},
 "encoding":{
  "x":{"field":"x","type":"quantitative","axis":null},
  "y":{"field":"y","type":"quantitative","axis":null},
  "text":{"field":"t"}}}
]
}
